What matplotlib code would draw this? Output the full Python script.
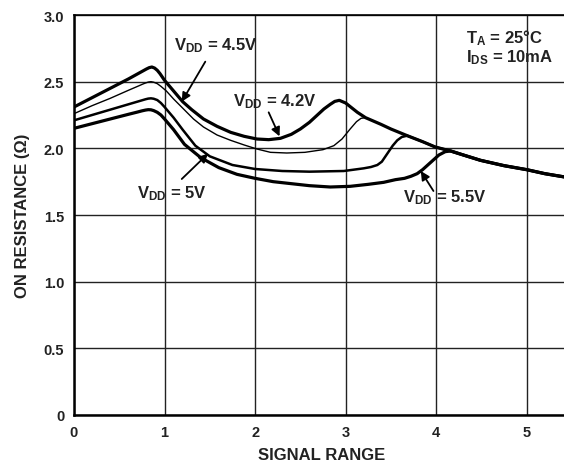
import matplotlib
matplotlib.use('Agg')
import matplotlib.pyplot as plt
import numpy as np

# shared tail: every curve runs into this line after its second hump
env_x = [2.93, 3.0, 3.13, 3.22, 3.39, 3.5, 3.68, 3.85, 3.99, 4.16, 4.3, 4.49, 4.75, 5.0, 5.2, 5.42]
env_y = [2.36, 2.34, 2.27, 2.23, 2.18, 2.145, 2.095, 2.05, 2.01, 1.98, 1.95, 1.91, 1.87, 1.84, 1.81, 1.785]

# VDD = 4.2V
x_42 = [0, 0.2, 0.4, 0.6, 0.72, 0.76, 0.8, 0.83, 0.86, 0.89, 0.92, 0.95, 1.0, 1.1, 1.2, 1.3, 1.43, 1.58,
        1.73, 1.88, 2.02, 2.15, 2.28, 2.4, 2.5, 2.6, 2.68, 2.76, 2.83, 2.88]
y_42 = [2.31, 2.38, 2.45, 2.52, 2.565, 2.58, 2.595, 2.605, 2.61, 2.602, 2.585, 2.56, 2.51, 2.43, 2.35, 2.29, 2.22, 2.165,
        2.12, 2.09, 2.07, 2.065, 2.075, 2.105, 2.145, 2.195, 2.245, 2.295, 2.33, 2.352]

# VDD = 4.5V
x_45 = [0, 0.2, 0.4, 0.6, 0.72, 0.76, 0.79, 0.82, 0.85, 0.88, 0.92, 0.96, 1.02, 1.1, 1.21, 1.32, 1.43, 1.58,
        1.73, 1.88, 2.02, 2.17, 2.35, 2.55, 2.75, 2.87, 2.96, 3.05, 3.12, 3.17]
y_45 = [2.26, 2.32, 2.375, 2.435, 2.47, 2.482, 2.49, 2.497, 2.50, 2.496, 2.485, 2.465, 2.43, 2.37, 2.295, 2.22, 2.16, 2.10,
        2.06, 2.025, 1.995, 1.97, 1.965, 1.97, 1.99, 2.02, 2.07, 2.145, 2.20, 2.225]

# VDD = 5V
x_50 = [0, 0.2, 0.4, 0.6, 0.7, 0.75, 0.79, 0.82, 0.85, 0.88, 0.92, 0.96, 1.0, 1.1, 1.2, 1.34, 1.5, 1.75, 2.0,
        2.3, 2.6, 2.98, 3.2, 3.28, 3.35, 3.4, 3.44, 3.48, 3.52, 3.57, 3.62]
y_50 = [2.21, 2.25, 2.29, 2.33, 2.35, 2.36, 2.368, 2.373, 2.375, 2.372, 2.362, 2.34, 2.31, 2.23, 2.14, 2.02, 1.94, 1.875, 1.845,
        1.83, 1.825, 1.83, 1.85, 1.86, 1.875, 1.9, 1.94, 1.98, 2.02, 2.06, 2.085]

# VDD = 5.5V
x_55 = [0, 0.2, 0.4, 0.6, 0.7, 0.75, 0.79, 0.82, 0.85, 0.88, 0.92, 0.96, 1.0, 1.1, 1.22, 1.4, 1.6, 1.8, 2.0,
        2.2, 2.4, 2.6, 2.83, 3.05, 3.25, 3.42, 3.55, 3.65, 3.72, 3.79, 3.85, 3.94, 4.03, 4.1]
y_55 = [2.15, 2.185, 2.22, 2.255, 2.272, 2.281, 2.287, 2.29, 2.289, 2.283, 2.27, 2.25, 2.22, 2.14, 2.03, 1.93, 1.855, 1.805, 1.775,
        1.75, 1.735, 1.72, 1.71, 1.715, 1.73, 1.745, 1.765, 1.775, 1.79, 1.81, 1.84, 1.895, 1.95, 1.975]

x_ticks = [0, 1, 2, 3, 4, 5]
y_ticks = [0, 0.5, 1.0, 1.5, 2.0, 2.5, 3.0]
y_tick_labels = ['0', '0.5', '1.0', '1.5', '2.0', '2.5', '3.0']


def with_tail(xs, ys):
    tx = [x for x in env_x if x > xs[-1]]
    ty = [y for x, y in zip(env_x, env_y) if x > xs[-1]]
    return xs + tx, ys + ty


plt.rcParams['font.family'] = ['Liberation Sans', 'DejaVu Sans']
plt.rcParams['font.weight'] = 'bold'
plt.rcParams['mathtext.fontset'] = 'custom'
plt.rcParams['mathtext.rm'] = 'Liberation Sans:bold'
plt.rcParams['mathtext.bf'] = 'Liberation Sans:bold'
plt.rcParams['mathtext.default'] = 'bf'

fig = plt.figure(figsize=(5.64, 4.64), dpi=100)
ax = fig.add_axes([74 / 564, 48 / 464, 1 - 74 / 564 + 0.01, 400 / 464])

ax.grid(True, color='#222222', linewidth=1.0)
ax.set_axisbelow(True)

for xs, ys, lw in [(x_55, y_55, 2.3), (x_50, y_50, 1.8), (x_45, y_45, 1.0), (x_42, y_42, 2.3)]:
    cx, cy = with_tail(xs, ys)
    ax.plot(cx, cy, color='black', linewidth=lw, solid_joinstyle='round', zorder=3)

ax.set_xlim(0, 5.42 + 0.054)
ax.set_ylim(0, 3.0)
ax.set_xticks(x_ticks)
ax.set_yticks(y_ticks)
ax.set_yticklabels(y_tick_labels)
ax.tick_params(length=0, labelsize=10.5, colors='#222222', pad=7)
for lab in ax.get_xticklabels() + ax.get_yticklabels():
    lab.set_fontweight('bold')

for side in ['left', 'bottom']:
    ax.spines[side].set_linewidth(1.8)
ax.spines['top'].set_linewidth(1.2)
ax.spines['right'].set_visible(False)

ax.set_xlabel('SIGNAL RANGE', fontsize=12, fontweight='bold', color='#222222', labelpad=6)
ax.set_ylabel('ON RESISTANCE (Ω)', fontsize=12, fontweight='bold', color='#222222', labelpad=10)

arrow = dict(arrowstyle='-|>', color='black', lw=1.3, mutation_scale=13, shrinkA=0, shrinkB=0)
lab_kw = dict(fontsize=12, fontweight='bold', ha='center', va='center', color='#222222')

ax.annotate('', xy=(1.19, 2.35), xytext=(1.45, 2.65), arrowprops=arrow)
ax.text(1.57, 2.775, r'V$_{DD}$ = 4.5V', **lab_kw)

ax.annotate('', xy=(2.27, 2.09), xytext=(2.15, 2.27), arrowprops=arrow)
ax.text(2.22, 2.355, r'V$_{DD}$ = 4.2V', **lab_kw)

ax.annotate('', xy=(1.48, 1.96), xytext=(1.19, 1.77), arrowprops=arrow)
ax.text(1.08, 1.665, r'V$_{DD}$ = 5V', **lab_kw)

ax.annotate('', xy=(3.83, 1.83), xytext=(3.97, 1.68), arrowprops=arrow)
ax.text(4.10, 1.635, r'V$_{DD}$ = 5.5V', **lab_kw)

ax.text(4.33, 2.765, 'T$_{A}$ = 25°C\nI$_{DS}$ = 10mA', fontsize=12, fontweight='bold',
        ha='left', va='center', color='#222222', linespacing=1.0)

fig.savefig('out.png', dpi=100, facecolor='white')
